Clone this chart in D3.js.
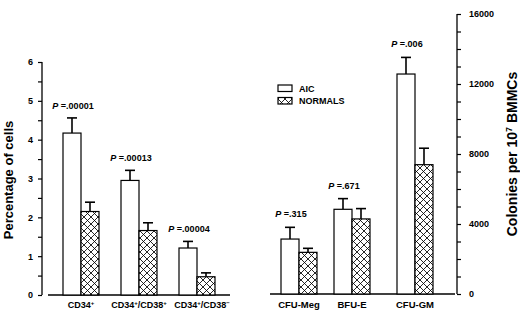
<!DOCTYPE html>
<html>
<head>
<meta charset="utf-8">
<script src="https://cdn.jsdelivr.net/npm/d3@7"></script>
<style>
	body { margin: 0; background: #fff; }
	svg text { font-family: "Liberation Sans", Arial, sans-serif; font-weight: bold; fill: #000; }
</style>
</head>
<body>
<div id="graphic"></div>
<script>
// left panel: percentage of cells
const cellCats = ['CD34+', 'CD34+/CD38+', 'CD34+/CD38-'];
const cellAic = [4.17, 2.95, 1.21];
const cellAicErr = [0.39, 0.26, 0.17];
const cellNorm = [2.15, 1.66, 0.47];
const cellNormErr = [0.24, 0.2, 0.1];
const cellP = ['.00001', '.00013', '.00004'];

// right panel: colonies per 10^7 BMMCs
const colCats = ['CFU-Meg', 'BFU-E', 'CFU-GM'];
const colAic = [3140, 4840, 12570];
const colAicErr = [670, 610, 950];
const colNorm = [2380, 4290, 7390];
const colNormErr = [230, 590, 940];
const colP = ['.315', '.671', '.006'];

const width = 520, height = 314;
const barW = 18;

const svg = d3.select('#graphic').append('svg')
	.attr('width', width).attr('height', height);

// crosshatch pattern for normals
const defs = svg.append('defs');
const pat = defs.append('pattern')
	.attr('id', 'hatch')
	.attr('patternUnits', 'userSpaceOnUse')
	.attr('width', 7).attr('height', 7);
pat.append('rect').attr('width', 7).attr('height', 7).attr('fill', '#fff');
pat.append('path')
	.attr('d', 'M0,0L7,7M7,0L0,7M-1,6L1,8M6,-1L8,1M-1,1L1,-1M6,8L8,6')
	.attr('stroke', '#000').attr('stroke-width', 0.85);

const yL = d3.scaleLinear().domain([0, 6]).range([295, 62]);
const yR = d3.scaleLinear().domain([0, 16000]).range([294, 14]);
const xL = d3.scaleBand().domain(cellCats).range([52, 226]);
const xR = d3.scaleOrdinal().domain(colCats).range([299, 352, 415]);

// axes
const axL = svg.append('g').attr('transform', 'translate(42,0)')
	.call(d3.axisLeft(yL).tickValues(d3.range(0, 6.01, 0.5)).tickSize(4)
		.tickFormat(d => Number.isInteger(d) ? d : ''));
const axR = svg.append('g').attr('transform', 'translate(457,0)')
	.call(d3.axisRight(yR).tickValues(d3.range(0, 16001, 1000)).tickSize(4)
		.tickFormat(d => d % 4000 === 0 ? d : ''));
[axL, axR].forEach(ax => {
	ax.select('.domain').attr('stroke-width', 1.3);
	ax.selectAll('line').attr('stroke-width', 1.2);
	ax.selectAll('text').attr('font-size', 9)
		.attr('font-family', '"Liberation Sans", Arial, sans-serif').attr('font-weight', 'bold');
});
axL.select('.domain').attr('d', `M0,${yL(6)}V${yL(0)}`);
axR.select('.domain').attr('d', `M0,${yR(16000)}V${yR(0)}`);
axL.selectAll('text').attr('x', -9);
axR.selectAll('text').attr('x', 12);

// baselines
svg.append('line').attr('x1', 48).attr('x2', 230).attr('y1', yL(0)).attr('y2', yL(0))
	.attr('stroke', '#000').attr('stroke-width', 1.4);
svg.append('line').attr('x1', 270).attr('x2', 455).attr('y1', yR(0)).attr('y2', yR(0))
	.attr('stroke', '#000').attr('stroke-width', 1.4);

function drawGroup(cats, cx, y, aic, aicErr, norm, normErr, pv, pGap) {
	const g = svg.append('g');
	cats.forEach((c, i) => {
		const x0 = cx(c);
		const bars = [
			{ x: x0 - barW, v: aic[i], e: aicErr[i], fill: '#fff' },
			{ x: x0, v: norm[i], e: normErr[i], fill: 'url(#hatch)' }
		];
		bars.forEach(b => {
			g.append('line')
				.attr('x1', b.x + barW / 2).attr('x2', b.x + barW / 2)
				.attr('y1', y(b.v)).attr('y2', y(b.v + b.e))
				.attr('stroke', '#000').attr('stroke-width', 1.6);
			g.append('line')
				.attr('x1', b.x + barW / 2 - 5).attr('x2', b.x + barW / 2 + 5)
				.attr('y1', y(b.v + b.e)).attr('y2', y(b.v + b.e))
				.attr('stroke', '#000').attr('stroke-width', 1.6);
			g.append('rect')
				.attr('x', b.x).attr('width', barW)
				.attr('y', y(b.v)).attr('height', y(0) - y(b.v))
				.attr('fill', b.fill).attr('stroke', '#000').attr('stroke-width', 1.2);
		});
		const t = g.append('text')
			.attr('x', x0 - 8).attr('y', y(aic[i] + aicErr[i]) - pGap)
			.attr('text-anchor', 'middle').attr('font-size', 9);
		t.append('tspan').attr('font-style', 'italic').text('P');
		t.append('tspan').text(' =' + pv[i]);
	});
}

drawGroup(cellCats, c => xL(c) + xL.bandwidth() / 2, yL, cellAic, cellAicErr, cellNorm, cellNormErr, cellP, 9);
drawGroup(colCats, c => xR(c), yR, colAic, colAicErr, colNorm, colNormErr, colP, 10);

// category labels
cellCats.forEach((c, i) => {
	const t = svg.append('text')
		.attr('x', xL(c) + xL.bandwidth() / 2 + (i === 2 ? 5 : 0)).attr('y', 308)
		.attr('text-anchor', 'middle').attr('font-size', 9);
	c.split('/').forEach((p, j) => {
		const base = p.slice(0, -1), sign = p.slice(-1);
		t.append('tspan').attr('dy', j === 0 ? 0 : 3).text((j ? '/' : '') + base);
		t.append('tspan').attr('dy', -3).attr('font-size', 6).text(sign === '-' ? '\u2212' : sign);
	});
});
colCats.forEach(c => {
	svg.append('text')
		.attr('x', xR(c)).attr('y', 308)
		.attr('text-anchor', 'middle').attr('font-size', 9.5)
		.text(c);
});

// axis titles
svg.append('text')
	.attr('transform', 'translate(13,180) rotate(-90)')
	.attr('text-anchor', 'middle').attr('font-size', 13)
	.text('Percentage of cells');
const rt = svg.append('text')
	.attr('transform', 'translate(517,154) rotate(-90)')
	.attr('text-anchor', 'middle').attr('font-size', 14);
rt.append('tspan').text('Colonies per 10');
rt.append('tspan').attr('dy', -5).attr('font-size', 9).text('7');
rt.append('tspan').attr('dy', 5).text(' BMMCs');

// legend
const legend = svg.append('g').attr('transform', 'translate(278,85)');
[['AIC', '#fff'], ['NORMALS', 'url(#hatch)']].forEach((d, i) => {
	legend.append('rect')
		.attr('x', 0).attr('y', i * 12.5).attr('width', 14).attr('height', 6.5)
		.attr('fill', d[1]).attr('stroke', '#000').attr('stroke-width', 1.2);
	legend.append('text')
		.attr('x', 21).attr('y', i * 12.5 + 6.5)
		.attr('font-size', 9)
		.text(d[0]);
});
</script>
</body>
</html>
